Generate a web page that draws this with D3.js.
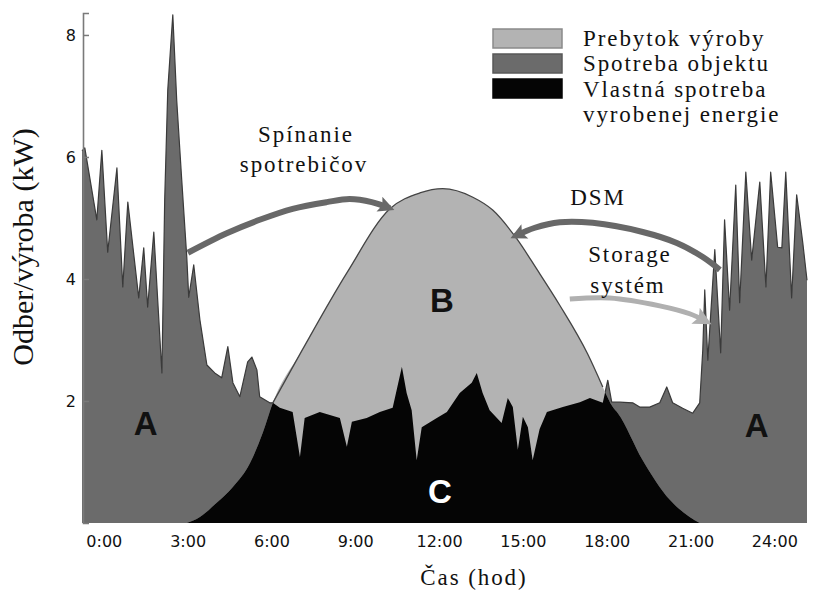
<!DOCTYPE html>
<html><head><meta charset="utf-8">
<script src="https://cdn.jsdelivr.net/npm/d3@7"></script>
<style>
body{margin:0;background:#fff}svg{display:block}
.serif{font-family:"Liberation Serif","Times New Roman",serif;font-size:23px;fill:#111}
.sans{font-family:"DejaVu Sans",sans-serif;font-size:16px;fill:#111}
</style>
</head><body>
<svg id="chart" width="828" height="591"></svg>
<script>
// ---- data (hour of day, kW) ----
const hourTicks = [0, 3, 6, 9, 12, 15, 18, 21, 24];
const kwTicks = [2, 4, 6, 8];

const consumption = [
  [-0.78, 6.10], [-0.68, 6.15], [-0.25, 4.97], [-0.07, 6.11], [0.14, 4.44], [0.47, 5.82],
  [0.68, 3.87], [0.86, 5.26], [1.25, 3.69], [1.43, 4.51], [1.57, 3.54], [1.79, 4.77],
  [2.08, 2.46], [2.18, 5.30], [2.29, 7.10], [2.47, 8.33], [2.61, 6.93], [2.79, 5.62],
  [2.97, 4.36], [3.04, 3.70], [3.22, 4.23], [3.44, 3.33], [3.69, 2.59], [3.97, 2.46],
  [4.22, 2.38], [4.44, 2.89], [4.62, 2.30], [4.87, 2.07], [5.15, 2.64], [5.30, 2.72],
  [5.48, 2.51], [5.58, 2.07], [5.94, 1.97], [6.05, 1.97],
  [6.30, 1.89], [6.76, 1.82], [7.02, 1.08], [7.19, 1.72], [7.73, 1.82], [8.45, 1.72],
  [8.70, 1.25], [8.88, 1.66], [9.41, 1.72], [9.88, 1.82], [10.34, 1.89], [10.67, 2.56],
  [10.84, 2.13], [11.02, 1.85], [11.20, 1.03], [11.38, 1.57], [11.92, 1.72], [12.28, 1.82],
  [12.74, 2.13], [13.17, 2.30], [13.35, 2.46], [13.56, 2.13], [13.81, 1.85], [14.24, 1.64],
  [14.46, 2.05], [14.64, 1.90], [14.82, 1.20], [15.00, 1.74], [15.18, 1.57], [15.35, 1.03],
  [15.60, 1.54], [15.86, 1.82], [16.43, 1.90], [17.04, 1.98], [17.40, 2.05], [17.86, 1.97],
  [18.04, 2.34], [18.18, 1.98], [18.47, 1.98], [18.93, 1.97], [19.18, 1.90], [19.54, 1.90],
  [19.90, 1.97], [20.15, 2.23], [20.36, 1.97], [20.72, 1.88], [21.08, 1.80], [21.33, 1.97],
  [21.44, 2.84], [21.51, 3.82], [21.62, 2.67], [21.87, 4.48], [22.08, 2.79], [22.22, 4.97],
  [22.40, 3.49], [22.62, 5.54], [22.76, 3.61], [22.98, 5.75], [23.19, 4.31], [23.48, 5.59],
  [23.70, 3.87], [23.87, 5.75], [24.12, 4.52], [24.27, 4.51], [24.41, 5.75], [24.62, 3.69],
  [24.80, 5.38], [25.02, 4.59], [25.17, 3.98]
];

const production = [
  [2.97, 0], [3.44, 0.10], [4.04, 0.33], [4.62, 0.59], [5.23, 0.98], [5.69, 1.48],
  [6.05, 1.97], [7.12, 2.85], [8.70, 4.10], [10.24, 5.15], [11.31, 5.41], [12.13, 5.48],
  [13.21, 5.34], [13.92, 5.13], [14.78, 4.66], [15.50, 4.16], [16.32, 3.57], [17.32, 2.77],
  [17.86, 2.23], [18.22, 1.90], [18.40, 1.80], [19.29, 1.03], [20.26, 0.38], [20.97, 0.10],
  [21.33, 0]
];

const legendNames = [["Prebytok výroby"], ["Spotreba objektu"], ["Vlastná spotreba", "vyrobenej energie"]];
const legendColors = ["#b3b3b3", "#6b6b6b", "#050505"];
const legendBorders = ["#8a8a8a", "#585858", "#050505"];

// annotation arrows, in (hour, kW)
const arrowSwitching = [[3.01, 4.43], [4.40, 4.75], [5.58, 4.97], [6.76, 5.15], [7.98, 5.26], [8.80, 5.31], [9.59, 5.26], [10.24, 5.16]];
const arrowDSM = [[22.05, 4.15], [21.44, 4.36], [20.51, 4.59], [19.29, 4.77], [17.50, 4.92], [16.32, 4.93], [15.43, 4.84], [14.71, 4.70]];
const arrowStorage = [[16.68, 3.67], [18.11, 3.69], [19.90, 3.56], [20.97, 3.43], [21.58, 3.30]];

// region letters (hour, kW at baseline)
const regionLetters = [
  { t: "A", h: 1.50, v: 1.44, c: "#111" },
  { t: "B", h: 12.10, v: 3.46, c: "#111" },
  { t: "C", h: 12.03, v: 0.33, c: "#fff" },
  { t: "A", h: 23.37, v: 1.41, c: "#111" }
];

// ---- drawing ----
const svg = d3.select("#chart");
const x = d3.scaleLinear().domain([-0.78, 25.17]).range([82, 807]);
const y = d3.scaleLinear().domain([0, 8.36]).range([523, 13]);

const defs = svg.append("defs");
const consArea = d3.area().x(d => x(d[0])).y0(y(0)).y1(d => y(d[1]));
const consLine = d3.line().x(d => x(d[0])).y(d => y(d[1]));
const prodArea = d3.area().x(d => x(d[0])).y0(y(0)).y1(d => y(d[1])).curve(d3.curveMonotoneX);
const prodLine = d3.line().x(d => x(d[0])).y(d => y(d[1])).curve(d3.curveMonotoneX);

defs.append("clipPath").attr("id", "prodClip").append("path").attr("d", prodArea(production));

svg.append("path").attr("d", consArea(consumption)).attr("fill", "#6b6b6b");
svg.append("path").attr("d", consLine(consumption)).attr("fill", "none")
  .attr("stroke", "#3a3a3a").attr("stroke-width", 1.2).attr("stroke-linejoin", "round");
svg.append("path").attr("d", prodArea(production)).attr("fill", "#b3b3b3");
svg.append("path").attr("d", prodLine(production.slice(6, 19))).attr("fill", "none")
  .attr("stroke", "#444").attr("stroke-width", 1.3);
svg.append("path").attr("d", consArea(consumption)).attr("fill", "#050505").attr("clip-path", "url(#prodClip)");

// y axis
const yAxis = d3.axisLeft(y).tickValues(kwTicks).tickSize(-6).tickPadding(7).tickFormat(d3.format("d"));
const gy = svg.append("g").attr("transform", `translate(${x.range()[0] + 1},0)`).call(yAxis);
gy.attr("font-family", null).attr("font-size", null);
gy.select(".domain").attr("stroke", "#7a7a7a").attr("stroke-width", 1.6);
gy.selectAll(".tick line").attr("stroke", "#7a7a7a").attr("stroke-width", 1.5);
gy.selectAll(".tick text").attr("class", "sans").attr("fill", null);

// x axis
const xAxis = d3.axisBottom(x).tickValues(hourTicks).tickSize(0).tickPadding(13).tickFormat(d => d + ":00");
const gx = svg.append("g").attr("transform", `translate(0,${y(0)})`).call(xAxis);
gx.attr("font-family", null).attr("font-size", null);
gx.select(".domain").remove();
gx.selectAll(".tick text").attr("class", "sans").attr("fill", null);

// spaced serif text: stretch natural width by a fixed tracking via textLength
const TRACK = 1.9;
function spaced(sel) {
  sel.each(function () {
    const n = this.textContent.length;
    const w = this.getComputedTextLength();
    d3.select(this).attr("textLength", w + TRACK * (n - 1)).attr("lengthAdjust", "spacing");
  });
  return sel;
}

// axis titles
svg.append("text").attr("class", "serif").attr("x", 473).attr("y", 585).attr("text-anchor", "middle")
  .text("Čas (hod)").call(spaced);
svg.append("text").attr("class", "serif").attr("transform", "translate(33,247) rotate(-90)")
  .attr("text-anchor", "middle").style("font-size", "30px").text("Odber/výroba (kW)");

// arrows
function addMarker(id, color, w, h) {
  defs.append("marker").attr("id", id).attr("viewBox", "0 0 10 10")
    .attr("refX", 7).attr("refY", 5).attr("markerUnits", "userSpaceOnUse")
    .attr("markerWidth", w).attr("markerHeight", h).attr("orient", "auto")
    .append("path").attr("d", "M0,0 L10,5 L0,10 L2,5 Z").attr("fill", color);
}
addMarker("headDark", "#686868", 22, 16);
addMarker("headLight", "#b0b0b0", 24, 18);
const arrowLine = d3.line().x(d => x(d[0])).y(d => y(d[1])).curve(d3.curveCatmullRom);
svg.append("path").attr("d", arrowLine(arrowSwitching)).attr("fill", "none")
  .attr("stroke", "#686868").attr("stroke-width", 6).attr("marker-end", "url(#headDark)");
svg.append("path").attr("d", arrowLine(arrowDSM)).attr("fill", "none")
  .attr("stroke", "#686868").attr("stroke-width", 6).attr("marker-end", "url(#headDark)");
svg.append("path").attr("d", arrowLine(arrowStorage)).attr("fill", "none")
  .attr("stroke", "#b0b0b0").attr("stroke-width", 5).attr("marker-end", "url(#headLight)");

// region letters
svg.selectAll("text.region").data(regionLetters).join("text").attr("class", "region")
  .attr("x", d => x(d.h)).attr("y", d => y(d.v)).attr("text-anchor", "middle")
  .style("font-family", "'Liberation Sans', Arial, sans-serif").style("font-weight", "bold").style("font-size", "33px")
  .style("fill", d => d.c).text(d => d.t);

// annotation texts
[["Spínanie", 305, 142], ["spotrebičov", 303, 172], ["DSM", 597, 205], ["Storage", 629, 262], ["systém", 627, 293]]
  .forEach(([t, tx, ty]) => svg.append("text").attr("class", "serif").attr("x", tx).attr("y", ty)
    .attr("text-anchor", "middle").text(t).call(spaced));

// legend
const lg = svg.append("g");
legendNames.forEach((lines, i) => {
  lg.append("rect").attr("x", 493).attr("y", 29 + i * 25).attr("width", 69).attr("height", 19)
    .attr("fill", legendColors[i]).attr("stroke", legendBorders[i]).attr("stroke-width", 1.5);
});
legendNames.flat().forEach((t, i) => {
  lg.append("text").attr("class", "serif").attr("x", 583).attr("y", 46 + i * 25.3).text(t).call(spaced);
});
</script>
</body></html>
